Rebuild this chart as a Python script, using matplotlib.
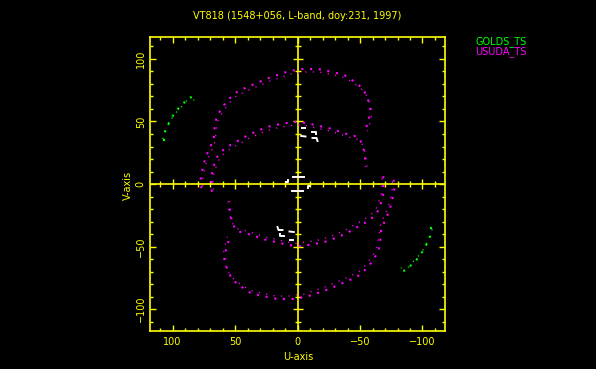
import matplotlib
matplotlib.use("Agg")
import matplotlib.pyplot as plt
import matplotlib.transforms as mtransforms
import numpy as np

# uv tracks (upper half only, the conjugate (-u,-v) is drawn too)
# USUDA_TS, outer arc
usuda_o_u = [76.9, 77.4, 75.6, 73.4, 70.2, 67.0, 66.2, 64.9, 60.9, 55.6, 50.3, 42.3, 33.0,
             23.7, 14.4, 6.4, -0.2, -3.0, -16.2, -26.9, -37.5, -45.5, -52.1, -56.1, -58.3,
             -57.5, -54.8]
usuda_o_v = [-3.4, 4.6, 13.8, 21.8, 28.6, 36.6, 45.8, 52.6, 60.6, 67.2, 72.6, 76.6, 80.6,
             84.6, 87.8, 90.4, 91.2, 92.0, 92.0, 89.8, 87.2, 81.8, 76.6, 68.6, 60.6,
             53.8, 44.6]
# USUDA_TS, inner arc (left part + right part)
usuda_i_u = [68.6, 68.9, 68.1, 66.2, 63.6, 59.6, 52.9, 46.3, 39.7, 30.3, 21.0, 10.4, 1.0,
             -0.2, -8.2, -16.2, -24.2, -32.2, -40.1, -48.1, -50.8, -53.5, -54.3, -54.3]
usuda_i_v = [-6.2, 4.6, 11.2, 16.6, 23.2, 27.2, 31.8, 35.2, 39.2, 43.2, 46.6, 48.6, 49.8,
             49.8, 48.6, 46.6, 45.0, 42.4, 39.8, 37.8, 33.8, 25.8, 17.8, 13.8]
# GOLDS_TS
golds_u = [106.9, 106.1, 103.8, 101.4, 99.8, 97.4, 95.0, 92.6, 90.2, 87.8, 84.5, 81.4]
golds_v = [34.4, 41.6, 47.2, 51.2, 54.4, 57.6, 60.8, 63.2, 65.6, 68.8, 69.5, 69.6]
# short ground baseline tracks (white)
white_tracks = [
    ([-3.5, -6.0], [44.8, 44.8]),
    ([-3.0, -6.4], [38.4, 38.0]),
    ([-11.2, -14.4, -14.4], [41.6, 41.6, 40.0]),
    ([-12.0, -15.2, -16.0], [36.8, 36.8, 34.4]),
    ([4.0, -4.8], [5.6, 5.6]),
    ([9.5, 8.0, 8.0], [1.8, 1.8, 3.2]),
]

title = "VT818 (1548+056, L-band, doy:231, 1997)"
ticks = [100, 50, 0, -50, -100]
YEL = "#ffff00"
MAG = "#ff00ff"
GRN = "#00ff00"

fig = plt.figure(figsize=(5.96, 3.69), dpi=100, facecolor="black")
ax = fig.add_axes([150 / 596, 1 - 331 / 369, 295 / 596, 294 / 369], facecolor="black")
ax.set_xlim(118, -118)
ax.set_ylim(-117.6, 117.6)


def track(u, v, color, sgn):
    u = np.array(u)
    v = np.array(v)
    for s in (1, -1):
        ax.plot(s * u, s * v, color=color, lw=1.5, ls=(0, (1, 3.2)), zorder=3)
        off = mtransforms.offset_copy(ax.transData, fig=fig, x=sgn * s * 1.5,
                                      y=-s * 3, units="dots")
        ax.plot(s * u, s * v, color=color, lw=0.9, ls=(2, (1, 5)),
                transform=off, zorder=3)


track(usuda_o_u, usuda_o_v, MAG, 1)
track(usuda_i_u, usuda_i_v, MAG, 1)
track(golds_u, golds_v, GRN, -1)

for tu, tv in white_tracks:
    tu = np.array(tu)
    tv = np.array(tv)
    ax.plot(tu, tv, color="white", lw=1.4, zorder=4)
    ax.plot(-tu, -tv, color="white", lw=1.4, zorder=4)

# frame and ticks
for sp in ax.spines.values():
    sp.set_color(YEL)
    sp.set_linewidth(1.2)
ax.set_xticks(ticks)
ax.set_yticks(ticks)
ax.set_xticks(np.arange(-110, 111, 10), minor=True)
ax.set_yticks(np.arange(-110, 111, 10), minor=True)
ax.tick_params(which="both", direction="in", top=True, right=True, colors=YEL,
               width=1, labelsize=7)
ax.tick_params(which="major", length=4.3)
ax.tick_params(which="minor", length=2.2)
ax.tick_params(axis="x", pad=4)
ax.tick_params(axis="y", pad=3, labelrotation=90)
for lbl in ax.get_yticklabels():
    lbl.set_va("center")

# axes through the origin with crossing ticks
ax.axhline(0, color=YEL, lw=1.2, zorder=2)
ax.axvline(0, color=YEL, lw=1.2, zorder=2)
minor = np.array([t for t in range(-110, 111, 10) if t % 50 != 0])
major = np.array([-100, -50, 50, 100])
ax.plot(minor, np.zeros_like(minor), ls="none", marker="|", ms=4, mew=1, color=YEL, zorder=2)
ax.plot(major, np.zeros_like(major), ls="none", marker="|", ms=7, mew=1, color=YEL, zorder=2)
ax.plot(np.zeros_like(minor), minor, ls="none", marker="_", ms=4, mew=1, color=YEL, zorder=2)
ax.plot(np.zeros_like(major), major, ls="none", marker="_", ms=7, mew=1, color=YEL, zorder=2)

fig.text(297.5 / 596, 1 - 16 / 369, title, color=YEL, fontsize=7, ha="center", va="center")
fig.text(298 / 596, 1 - 357 / 369, "U-axis", color=YEL, fontsize=7, ha="center", va="center")
fig.text(128 / 596, 1 - 185 / 369, "V-axis", color=YEL, fontsize=7, ha="center",
         va="center", rotation=90)
fig.text(475 / 596, 1 - 42 / 369, "GOLDS_TS", color=GRN, fontsize=7, ha="left", va="center")
fig.text(475 / 596, 1 - 52 / 369, "USUDA_TS", color=MAG, fontsize=7, ha="left", va="center")

fig.savefig("out.png", dpi=100, facecolor="black")
